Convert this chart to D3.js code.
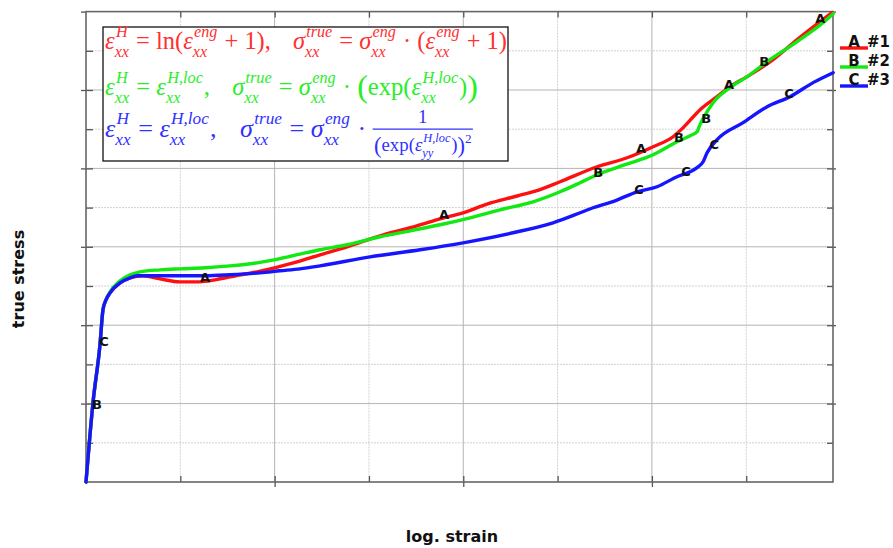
<!DOCTYPE html>
<html><head><meta charset="utf-8">
<script src="https://cdn.jsdelivr.net/npm/d3@7/dist/d3.min.js"></script>
<style>
html,body{margin:0;padding:0;background:#fff;}
svg{display:block;}
</style></head>
<body>
<svg id="chart" width="893" height="548"></svg>
<script>
// ---------- data (log. strain in %, true stress in arbitrary units) ----------
const seriesNames = ["#1", "#2", "#3"];
const markerLetters = ["A", "B", "C"];
const seriesColors = ["#ff1010", "#12e812", "#1515ff"];

const strain1 = [0,0.74,1.48,1.80,2.12,2.55,3.61,4.67,6.04,7.85,9.97,12.09,13.68,15.27,18.13,22.38,24.81,27.68,31.18,34.36,37.54,39.98,42.52,45.71,48.14,50.27,54.19,57.37,60.13,62.25,63.31,65.11,66.91,68.29,70.10,72.85,75.40,77.84,79.11];
const stress1 = [0,100.9,174.9,219.6,232.3,241.3,254.0,260.4,263.0,259.1,255.3,255.3,257.9,261.7,268.1,280.9,289.8,300.0,314.0,324.3,335.7,343.4,354.5,364.8,373.0,383.0,402.1,413.6,427.7,440.4,451.9,474.9,491.5,504.3,517.0,538.7,564.3,587.2,598.7];

const strain2 = [0,0.74,1.48,1.80,2.12,2.55,3.61,4.67,5.73,7.85,9.97,12.62,15.27,18.45,20.57,22.69,24.81,27.68,31.18,34.36,37.54,40.72,43.90,47.40,50.27,52.39,54.19,57.16,60.13,62.67,64.05,64.79,65.01,65.54,66.49,68.29,70.10,72.22,75.40,78.16,79.22];
const stress2 = [0,100.9,174.9,219.6,232.3,242.6,256.6,264.3,268.1,270.6,271.9,273.2,275.7,280.2,285.0,290.6,296.2,302.6,312.8,320.4,328.1,337.0,347.2,357.4,370.2,381.7,391.9,404.7,417.4,434.0,441.7,446.8,453.2,466.0,483.8,503.0,517.0,536.2,561.7,586.0,597.4];

const strain3 = [0,0.74,1.48,1.80,2.12,2.55,3.61,4.67,5.41,7.85,9.97,12.62,15.27,18.45,20.57,22.69,24.81,30.12,35.42,39.98,45.28,49.52,52.39,53.76,56.09,58.43,60.55,62.67,64.05,64.79,65.43,65.85,66.91,69.67,72.22,74.66,77.09,79.22];
const stress3 = [0,100.9,174.9,219.6,232.3,241.3,254.0,260.4,263.0,263.0,263.0,263.0,264.3,266.8,269.4,271.9,275.7,287.2,296.2,305.1,317.9,330.6,343.4,349.8,358.7,370.2,376.6,389.4,395.7,400.9,408.5,420.0,436.6,458.3,478.7,491.5,509.4,522.1];

// letter markers on curves [strain, stress]
const markers1 = [[12.62,261.7],[37.96,340.9],[58.85,425.1],[68.19,506.8],[77.84,591.1]];
const markers2 = [[1.17,99.6],[54.30,394.5],[62.88,439.2],[65.75,463.4],[71.90,536.2]];
const markers3 = [[1.91,180.0],[58.64,372.8],[63.63,395.7],[66.60,430.2],[74.55,495.3]];

const xMinorTicks = [10,20,30,40,50,60,70];
const xMajorTicks = [20,40,60];
const yMinorTicks = [50,100,150,200,250,300,350,400,450,500,550];
const yMajorTicks = [100,200,300,400,500,600];

const xTitle = "log. strain";
const yTitle = "true stress";

// ---------- layout ----------
const svg = d3.select("#chart");
const L = 86, R = 833, T = 11.6, B = 482;
const x = d3.scaleLinear().domain([0, 79.2]).range([L, R]);
const y = d3.scaleLinear().domain([0, 600]).range([B, T]);

// grid
const grid = svg.append("g");
grid.selectAll("line.vx").data(xMinorTicks).join("line")
  .attr("x1", d => x(d)).attr("x2", d => x(d)).attr("y1", T).attr("y2", B)
  .attr("stroke", d => xMajorTicks.includes(d) ? "#b4b4b4" : "#d2d2d2")
  .attr("stroke-dasharray", d => xMajorTicks.includes(d) ? null : "2,1")
  .attr("stroke-width", 1);
grid.selectAll("line.hy").data(yMinorTicks).join("line")
  .attr("y1", d => y(d)).attr("y2", d => y(d)).attr("x1", L).attr("x2", R)
  .attr("stroke", d => yMajorTicks.includes(d) ? "#b4b4b4" : "#d2d2d2")
  .attr("stroke-dasharray", d => yMajorTicks.includes(d) ? null : "2,1")
  .attr("stroke-width", 1);

// axes ticks
function styleAxis(g){ g.select(".domain").remove(); g.selectAll("line").attr("stroke","#555").attr("stroke-width",1.3); g.selectAll("text").remove(); }
svg.append("g").attr("transform",`translate(0,${B})`).call(d3.axisBottom(x).tickValues(xMajorTicks).tickSize(5).tickFormat("")).call(styleAxis);
svg.append("g").attr("transform",`translate(0,${B})`).call(d3.axisBottom(x).tickValues(xMinorTicks).tickSize(-6).tickFormat("")).call(styleAxis);
svg.append("g").attr("transform",`translate(0,${T})`).call(d3.axisTop(x).tickValues(xMinorTicks).tickSize(-6).tickFormat("")).call(styleAxis);
svg.append("g").attr("transform",`translate(${L},0)`).call(d3.axisLeft(y).tickValues(yMajorTicks).tickSize(5).tickFormat("")).call(styleAxis);
svg.append("g").attr("transform",`translate(${L},0)`).call(d3.axisLeft(y).tickValues(yMinorTicks).tickSize(-7).tickFormat("")).call(styleAxis);
svg.append("g").attr("transform",`translate(${R},0)`).call(d3.axisRight(y).tickValues(yMajorTicks).tickSize(3).tickFormat("")).call(styleAxis);
svg.append("g").attr("transform",`translate(${R},0)`).call(d3.axisRight(y).tickValues(yMinorTicks).tickSize(-6).tickFormat("")).call(styleAxis);

// frame
svg.append("rect").attr("x", L).attr("y", T).attr("width", R - L).attr("height", B - T)
  .attr("fill", "none").attr("stroke", "#666").attr("stroke-width", 1.6);

// curves
const line = d3.line().x(d => x(d[0])).y(d => y(d[1])).curve(d3.curveMonotoneX);
const series = [
  d3.zip(strain1, stress1),
  d3.zip(strain2, stress2),
  d3.zip(strain3, stress3)
];
const markers = [markers1, markers2, markers3];
series.forEach((s, i) => {
  svg.append("path").datum(s).attr("d", line).attr("fill", "none")
    .attr("stroke", seriesColors[i]).attr("stroke-width", 3.4)
    .attr("stroke-linejoin", "round").attr("stroke-linecap", "round");
});
markers.forEach((m, i) => {
  svg.append("g").selectAll("text").data(m).join("text")
    .attr("x", d => x(d[0])).attr("y", d => y(d[1]))
    .attr("dy", "0.36em").attr("text-anchor", "middle")
    .attr("font-family", "DejaVu Sans").attr("font-weight", "bold").attr("font-size", 13)
    .attr("fill", "#111").text(markerLetters[i]);
});

// legend
const leg = svg.append("g");
seriesNames.forEach((n, i) => {
  const ly = 48 + i * 19;
  leg.append("line").attr("x1", 840).attr("x2", 868).attr("y1", ly).attr("y2", ly)
    .attr("stroke", seriesColors[i]).attr("stroke-width", 3.4);
  leg.append("text").attr("x", 854).attr("y", ly - 1).attr("text-anchor", "middle")
    .attr("font-family", "DejaVu Sans").attr("font-weight", "bold").attr("font-size", 15)
    .attr("fill", "#111").text(markerLetters[i]);
  leg.append("text").attr("x", 867).attr("y", ly - 1)
    .attr("font-family", "DejaVu Sans").attr("font-weight", "bold").attr("font-size", 15)
    .attr("fill", "#111").text(n);
});

// axis titles
svg.append("text").attr("x", 452).attr("y", 542).attr("text-anchor", "middle")
  .attr("font-family", "DejaVu Sans").attr("font-weight", "bold").attr("font-size", 16)
  .attr("fill", "#111").text(xTitle);
svg.append("text").attr("transform", "translate(24,279) rotate(-90)").attr("text-anchor", "middle")
  .attr("font-family", "DejaVu Sans").attr("font-weight", "bold").attr("font-size", 16)
  .attr("fill", "#111").text(yTitle);

// ---------- formula box ----------
svg.append("rect").attr("x", 103).attr("y", 27).attr("width", 405).attr("height", 134)
  .attr("fill", "#fff").attr("stroke", "#111").attr("stroke-width", 1.3);

const FONT = "Liberation Serif";
const E = "\u03B5", S = "\u03C3";
const formulaColors = ["#ff3030", "#28ee28", "#3030ff"];
const line1 = [
  {t:E,i:1},{sup:"H",sub:"xx"},{t:" = ln("},{t:E,i:1},{sup:"eng",sub:"xx"},{t:" + 1),"},{sp:0.9},
  {t:S,i:1},{sup:"true",sub:"xx"},{t:" = "},{t:S,i:1},{sup:"eng",sub:"xx"},{t:" \u00B7 ("},{t:E,i:1},{sup:"eng",sub:"xx"},{t:" + 1)"}
];
const line2 = [
  {t:E,i:1},{sup:"H",sub:"xx"},{t:" = "},{t:E,i:1},{sup:"H,loc",sub:"xx"},{t:","},{sp:0.9},
  {t:S,i:1},{sup:"true",sub:"xx"},{t:" = "},{t:S,i:1},{sup:"eng",sub:"xx"},{t:" \u00B7 "},{t:"(",s:1.3,dy:0.08},{t:"exp("},{t:E,i:1},{sup:"H,loc",sub:"xx"},{t:")"},{t:")",s:1.3,dy:0.08}
];
const line3 = [
  {t:E,i:1},{sup:"H",sub:"xx"},{t:" = "},{t:E,i:1},{sup:"H,loc",sub:"xx"},{t:","},{sp:0.9},
  {t:S,i:1},{sup:"true",sub:"xx"},{t:" = "},{t:S,i:1},{sup:"eng",sub:"xx"},{t:" \u00B7 "},
  {frac:{num:[{t:"1"}], den:[{t:"(",s:1.2,dy:0.06},{t:"exp("},{t:E,i:1},{sup:"H,loc",sub:"yy"},{t:")"},{t:")",s:1.2,dy:0.06},{supOnly:"2"}]}}
];

function txt(g, str, xx, yy, size, italic, color){
  const el = g.append("text").attr("x", xx).attr("y", yy)
    .attr("font-family", FONT).attr("font-size", size)
    .attr("font-style", italic ? "italic" : "normal")
    .attr("fill", color).style("white-space", "pre").text(str);
  return el.node().getComputedTextLength();
}
function render(g, tokens, size, x0, base, color){
  let cx = x0;
  tokens.forEach(tk => {
    if (tk.sp !== undefined) { cx += tk.sp * size; }
    else if (tk.t !== undefined) {
      cx += txt(g, tk.t, cx, base + (tk.dy || 0) * size, size * (tk.s || 1), tk.i, color);
    } else if (tk.sup !== undefined) {
      const ss = size * 0.66;
      const w1 = txt(g, tk.sup, cx + 0.05 * size, base - 0.5 * size, ss, true, color);
      const w2 = txt(g, tk.sub, cx, base + 0.32 * size, ss, true, color);
      cx += Math.max(w1 + 0.05 * size, w2) + 0.04 * size;
    } else if (tk.supOnly !== undefined) {
      cx += txt(g, tk.supOnly, cx, base - 0.45 * size, size * 0.7, false, color);
    } else if (tk.frac) {
      const fs = size * 0.72;
      const tmpN = g.append("g"), tmpD = g.append("g");
      const wn = render(tmpN, tk.frac.num, fs, 0, 0, color);
      const wd = render(tmpD, tk.frac.den, fs, 0, 0, color);
      const w = Math.max(wn, wd) + 0.1 * size;
      const axis = base - 0.3 * size;
      tmpN.attr("transform", `translate(${cx + (w - wn) / 2},${axis - 0.22 * size})`);
      tmpD.attr("transform", `translate(${cx + (w - wd) / 2},${axis + 0.85 * size})`);
      g.append("line").attr("x1", cx).attr("x2", cx + w).attr("y1", axis).attr("y2", axis)
        .attr("stroke", color).attr("stroke-width", Math.max(0.8, size * 0.045));
      cx += w;
    }
  });
  return cx - x0;
}
function fitLine(tokens, x0, base, targetW, color){
  const g = svg.append("g");
  const w = render(g, tokens, 20, 0, 0, color);
  g.remove();
  const size = 20 * targetW / w;
  const g2 = svg.append("g");
  render(g2, tokens, size, x0, base, color);
}
fitLine(line1, 105, 49, 402, formulaColors[0]);
fitLine(line2, 105, 95, 373, formulaColors[1]);
fitLine(line3, 105, 137, 368, formulaColors[2]);
</script>
</body></html>
